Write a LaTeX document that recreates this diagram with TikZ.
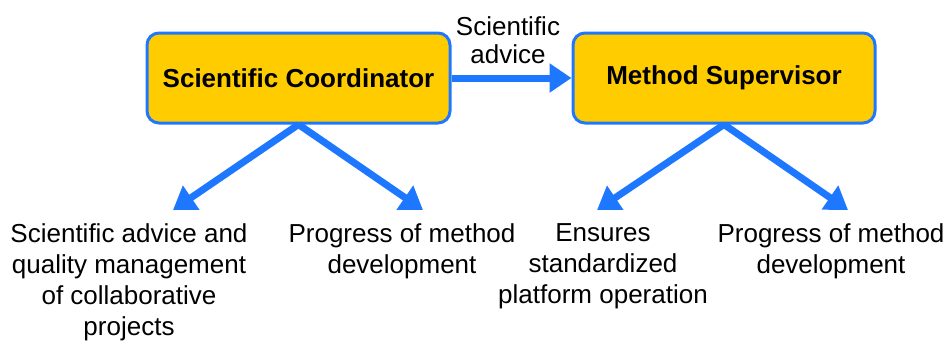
\documentclass[tikz,border=0pt]{standalone}
\usepackage{fontspec}
\setmainfont{Liberation Sans}
\usetikzlibrary{arrows.meta}
\definecolor{boxgold}{RGB}{255,204,0}
\definecolor{arrblue}{RGB}{30,120,255}
\begin{document}
\begin{tikzpicture}[x=1pt,y=-1pt,
  rolebox/.style={draw=arrblue, line width=3pt, fill=boxgold, rounded corners=12pt,
    minimum height=90pt, inner sep=0pt, font=\fontsize{26}{30}\selectfont\bfseries},
  bigarrow/.style={draw=arrblue, line width=7pt, -{Triangle[length=22pt,width=28pt]}},
  desc/.style={anchor=north, inner sep=0pt, align=center, font=\fontsize{26}{31}\selectfont},
]
\useasboundingbox (0,0) rectangle (949,340);
\node[rolebox, minimum width=303pt] (sc) at (298.5,78) {Scientific Coordinator};
\node[rolebox, minimum width=302pt] (ms) at (724,78) {Method Supervisor};
\node[desc, font=\fontsize{26}{28}\selectfont] (adv) at (508,16) {Scientific\\advice};
\draw[bigarrow] (sc.east) -- (ms.west);

\node[desc] (t1) at (129,223) {Scientific advice and\\quality management\\of collaborative\\projects};
\node[desc] (t2) at (402,223) {Progress of method\\development};
\node[desc] (t3) at (603,223) {Ensures\\standardized\\platform operation};
\node[desc] (t4) at (831,223) {Progress of method\\development};

\coordinate (p1) at (173,210);
\coordinate (p2) at (423,210);
\coordinate (p3) at (597,210);
\coordinate (p4) at (848,210);
\draw[bigarrow] (sc.south) -- (p1);
\draw[bigarrow] (sc.south) -- (p2);
\draw[bigarrow] (ms.south) -- (p3);
\draw[bigarrow] (ms.south) -- (p4);
\end{tikzpicture}
\end{document}
